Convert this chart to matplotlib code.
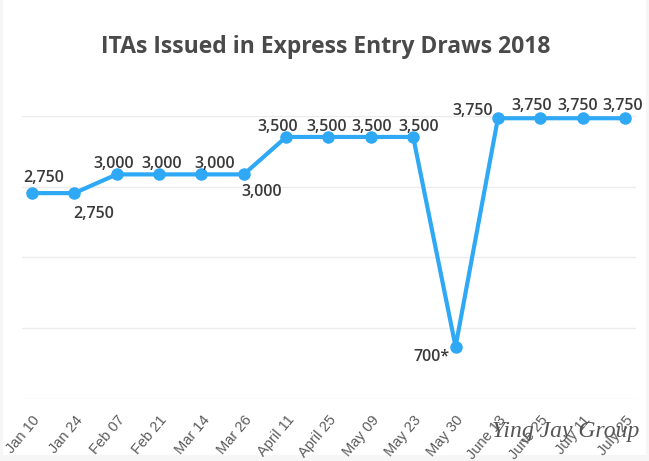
import matplotlib.pyplot as plt
from matplotlib.patches import Rectangle

dates = ["Jan 10", "Jan 24", "Feb 07", "Feb 21", "Mar 14", "Mar 26", "April 11", "April 25",
         "May 09", "May 23", "May 30", "June 13", "June 25", "July 11", "July 25"]
itas = [2750, 2750, 3000, 3000, 3000, 3000, 3500, 3500, 3500, 3500, 700, 3750, 3750, 3750, 3750]
labels = ["2,750", "2,750", "3,000", "3,000", "3,000", "3,000", "3,500", "3,500",
          "3,500", "3,500", "700*", "3,750", "3,750", "3,750", "3,750"]
# the gridlines in the picture do not sit on round numbers
grid_values = [0, 945, 1890, 2835, 3780]

# label offsets from the point, in pixels
offsets = [(12, 15), (19, -21), (-3, 10), (3, 10), (13, 10), (18, -18), (-8, 10), (-2, 10),
           (1, 10), (5, 10), (-24, -10), (-25, 7), (-9, 12), (-5, 12), (-2, 12)]

W, H = 649, 461
fig = plt.figure(figsize=(W / 100, H / 100), dpi=100, facecolor="#f6f6f7")
fig.add_artist(Rectangle((3 / W, 1 - 455 / H), 643 / W, 455 / H, transform=fig.transFigure,
                         facecolor="white", edgecolor="none", zorder=-1))

ax = fig.add_axes([22 / W, 1 - 399 / H, 614 / W, 283 / H])
ax.patch.set_alpha(0)
ax.plot(range(len(itas)), itas, color="#2fa9f5", lw=3, marker="o", ms=8, clip_on=False, zorder=3)
ax.set_xlim(-0.236, 14.26)
ax.set_ylim(0, 3780)

ax.set_yticks(grid_values)
ax.set_yticklabels([])
ax.set_xticks(range(len(dates)))
ax.set_xticklabels(dates, rotation=50, ha="right", rotation_mode="anchor",
                   fontsize=10.5, color="#5c5c5c", family="Liberation Sans")
ax.tick_params(length=0, pad=10)
ax.grid(axis="y", color="#ececee", lw=1)
ax.set_axisbelow(True)
for s in ax.spines.values():
    s.set_visible(False)

for i, (val, lab) in enumerate(zip(itas, labels)):
    ax.annotate(lab, (i, val), xytext=offsets[i], textcoords="offset pixels", ha="center", va="center",
                fontsize=11.5, fontweight="semibold", color="#3a3a3a", family="Open Sans",
                annotation_clip=False)

fig.text(326 / W, 1 - 47 / H, "ITAs Issued in Express Entry Draws 2018", ha="center", va="center",
         fontsize=16.5, fontweight="bold", color="#4a4a4a", family="Open Sans")
fig.text(566 / W, 1 - 431 / H, "Ying Jay Group", ha="center", va="center", fontsize=17,
         style="italic", color="#555555", family="Liberation Serif")

fig.savefig("out.png", dpi=100, facecolor=fig.get_facecolor())
